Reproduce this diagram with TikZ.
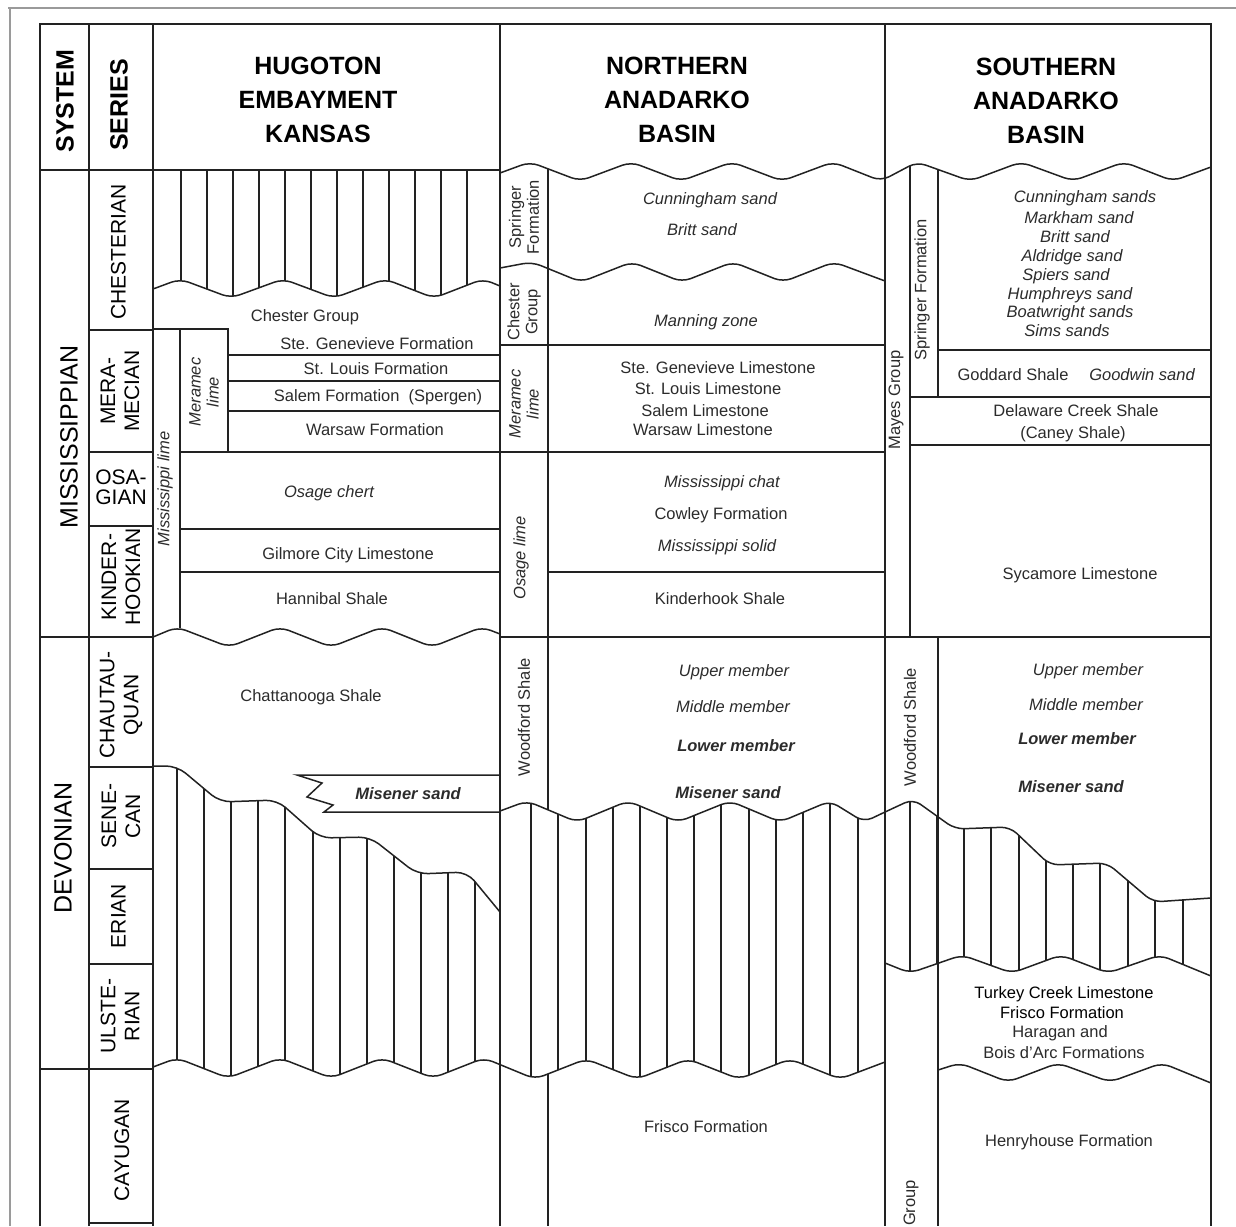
\documentclass[tikz,border=0pt]{standalone}
\usepackage{fontspec}
\setmainfont{Liberation Sans}
\definecolor{ln}{HTML}{222222}
\definecolor{tx}{HTML}{2b2b2b}
\definecolor{fr}{HTML}{9a9a9a}
\tikzset{
 ln/.style={draw=ln, line width=1.5pt},
 hat/.style={draw=ln, line width=1.2pt},
 wv/.style={draw=ln, line width=1.5pt, rounded corners=9pt},
 stp/.style={draw=ln, line width=1.5pt, rounded corners=11pt},
 lbl/.style={font=\fontsize{16.5}{19}\selectfont, text=tx, inner sep=0pt, text height=12pt, text depth=0pt},
 ilbl/.style={lbl, font=\fontsize{16.5}{19}\selectfont\itshape},
 blbl/.style={lbl, font=\fontsize{16.5}{19}\selectfont\bfseries\itshape},
 rlbl/.style={font=\fontsize{16.5}{18}\selectfont, text=tx, inner sep=0pt, rotate=90, align=center},
 rilbl/.style={rlbl, font=\fontsize{16.5}{18}\selectfont\itshape},
 hdr/.style={font=\fontsize{25}{34}\selectfont\bfseries, text=black, inner sep=0pt, align=center},
 sys/.style={font=\fontsize{25}{30}\selectfont, text=black, inner sep=0pt, rotate=90},
 ser/.style={font=\fontsize{21}{24}\selectfont, text=black, inner sep=0pt, rotate=90, align=center},
}
\begin{document}
\begin{tikzpicture}[x=1pt,y=-1pt]
\useasboundingbox (0,0) rectangle (1236,1226);
% outer frame of the page
\draw[fr, line width=2pt] (8,8) -- (1236,8);
\draw[fr, line width=2.5pt] (10,8) -- (10,1226);

% ---------- hatched areas ----------
\begin{scope}
\clip[rounded corners=9pt] (153,289) -- (180,279) -- (231,298) -- (283,279) -- (334,298) -- (385,279) -- (434,298) -- (483,279) -- (500,286) -- (500,170) -- (153,170) -- cycle;
\foreach \xx in {181,207,233,259,285,311,337,363,389,415,441,467} \draw[hat] (\xx,160) -- (\xx,310);
\end{scope}

\begin{scope}
\clip[rounded corners=9pt] (153,766) -- (177,766) -- (220,802) -- (277,800) -- (320,838) -- (370,837) -- (417,874) -- (467,872) -- (500,912) -- (500,811) -- (527,801) -- (577,822) -- (628,801) -- (678,822) -- (730,801) -- (780,822) -- (830,801) -- (864,822) -- (885,812) -- (885,1062) -- (840,1079) -- (790,1059) -- (739,1079) -- (688,1059) -- (637,1079) -- (586,1059) -- (535,1079) -- (484,1058) -- (433,1078) -- (382,1058) -- (331,1078) -- (280,1058) -- (228,1078) -- (177,1058) -- (153,1067) -- cycle;
\foreach \xx in {177,204,231,258,285,313,340,367,394,421,448,475} \draw[hat] (\xx,750) -- (\xx,1090);
\foreach \xx in {531,558,586,613,640,667,694,721,749,776,803,830,858} \draw[hat] (\xx,790) -- (\xx,1090);
\end{scope}

\begin{scope}
\clip[rounded corners=9pt] (885,812) -- (913,799) -- (955,829) -- (1010,827) -- (1050,865) -- (1107,863) -- (1153,902) -- (1211,898) -- (1211,976) -- (1160,955) -- (1108,973) -- (1061,955) -- (1012,973) -- (962,955) -- (910,973) -- (885,963) -- cycle;
\foreach \xx in {910,937,964,991,1019,1046,1073,1100,1128,1155,1183} \draw[hat] (\xx,790) -- (\xx,990);
\end{scope}

% ---------- main grid ----------
\draw[ln] (40,1226) -- (40,24) -- (1211,24) -- (1211,1226);
\foreach \xx in {89,153,500,885} \draw[ln] (\xx,24) -- (\xx,1226);
\draw[ln] (40,170) -- (500,170);
\draw[ln] (40,637) -- (153,637);
\draw[ln] (40,1069) -- (153,1069);
\foreach \yy in {330,452,526,767,869,964,1223} \draw[ln] (89,\yy) -- (153,\yy);

% ---------- Hugoton ----------
\draw[ln] (153,329) -- (228,329) -- (228,452);
\draw[ln] (180,329) -- (180,628);
\foreach \yy in {355,381,411} \draw[ln] (228,\yy) -- (500,\yy);
\foreach \yy in {452,529,572} \draw[ln] (180,\yy) -- (500,\yy);
\draw[wv] (153,289) -- (180,279) -- (231,298) -- (283,279) -- (334,298) -- (385,279) -- (434,298) -- (483,279) -- (500,286);
\draw[wv] (153,637) -- (177,627) -- (229,647) -- (280,627) -- (331,647) -- (382,627) -- (432,647) -- (482,627) -- (500,634);
\draw[stp] (153,766) -- (177,766) -- (220,802) -- (277,800) -- (320,838) -- (370,837) -- (417,874) -- (467,872) -- (500,912);
\draw[ln, line join=miter] (500,775) -- (297,775) -- (322,783) -- (307,797) -- (333,805) -- (324,812) -- (500,812);
\draw[wv] (153,1067) -- (177,1058) -- (228,1078) -- (280,1058) -- (331,1078) -- (382,1058) -- (433,1078) -- (484,1058) -- (535,1079) -- (586,1059) -- (637,1079) -- (688,1059) -- (739,1079) -- (790,1059) -- (840,1079) -- (885,1062);

% ---------- Northern ----------
\draw[wv] (500,173) -- (530,162) -- (580,181) -- (631,162) -- (681,181) -- (732,162) -- (782,181) -- (833,162) -- (881,181) -- (917,162) -- (970,181) -- (1021,162) -- (1073,181) -- (1124,162) -- (1173,181) -- (1211,167);
\draw[wv] (500,268) -- (532,262) -- (581,282) -- (632,262) -- (682,282) -- (733,262) -- (783,282) -- (834,262) -- (885,281);
\draw[ln] (548,169) -- (548,810);
\draw[ln] (548,1074) -- (548,1226);
\draw[ln] (500,345) -- (885,345);
\draw[ln] (500,452) -- (885,452);
\draw[ln] (548,572) -- (885,572);
\draw[ln] (500,637) -- (1211,637);
\draw[wv] (500,811) -- (527,801) -- (577,822) -- (628,801) -- (678,822) -- (730,801) -- (780,822) -- (830,801) -- (864,822) -- (885,812) -- (913,799) -- (955,829) -- (1010,827) -- (1050,865) -- (1107,863) -- (1153,902) -- (1211,898);

% ---------- Southern ----------
\draw[ln] (910,166) -- (910,637);
\draw[ln] (938,170) -- (938,397);
\draw[ln] (938,637) -- (938,1226);
\draw[ln] (938,350) -- (1211,350);
\draw[ln] (910,397) -- (1211,397);
\draw[ln] (910,445) -- (1211,445);
\draw[wv] (885,963) -- (910,973) -- (962,955) -- (1012,973) -- (1061,955) -- (1108,973) -- (1160,955) -- (1211,976);
\draw[wv] (938,1070) -- (960,1063) -- (1008,1082) -- (1058,1063) -- (1110,1082) -- (1162,1063) -- (1211,1083);

% ---------- headers ----------
\node[hdr] (hH) at (318,100) {HUGOTON\\EMBAYMENT\\KANSAS};
\node[hdr] (hN) at (677,100) {NORTHERN\\ANADARKO\\BASIN};
\node[hdr] (hS) at (1046,101) {SOUTHERN\\ANADARKO\\BASIN};
\node[hdr, rotate=90] (hSys) at (65,101) {SYSTEM};
\node[hdr, rotate=90] (hSer) at (119,105) {SERIES};

\node[sys] (sM) at (69,437) {MISSISSIPPIAN};
\node[sys] (sD) at (63,848) {DEVONIAN};

\node[ser] (s1) at (118.5,252) {CHESTERIAN};
\node[ser] (s2) at (120,391) {MERA-\\MECIAN};
\node[font=\fontsize{21}{20}\selectfont, text=black, inner sep=0pt, align=left] (s3) at (121,487) {OSA-\\GIAN};
\node[ser] (s4) at (121,577) {KINDER-\\HOOKIAN};
\node[ser] (s5) at (121,705) {CHAUTAU-\\QUAN};
\node[ser] (s6) at (121,816) {SENE-\\CAN};
\node[ser] (s7) at (118.5,916) {ERIAN};
\node[ser] (s8) at (120,1016) {ULSTE-\\RIAN};
\node[ser] (s9) at (122,1150) {CAYUGAN};

% ---------- Hugoton labels ----------
\node[lbl] (h1) at (305,315) {Chester Group};
\node[lbl] (h2) at (377,343) {Ste. Genevieve Formation};
\node[lbl] (h3) at (376,368) {St. Louis Formation};
\node[lbl] (h4) at (378,395) {Salem Formation~~(Spergen)};
\node[lbl] (h5) at (375,429) {Warsaw Formation};
\node[ilbl] (h6) at (329,491) {Osage chert};
\node[lbl] (h7) at (348,553) {Gilmore City Limestone};
\node[lbl] (h8) at (332,598) {Hannibal Shale};
\node[lbl] (h9) at (311,695) {Chattanooga Shale};
\node[blbl] (h10) at (408,793) {Misener sand};
\node[rilbl] (h11) at (165,489) {Mississippi lime};
\node[rilbl] (h12) at (204,392) {Meramec\\lime};

% ---------- Northern labels ----------
\node[rlbl] (n1) at (524,217) {Springer\\Formation};
\node[rlbl] (n2) at (524,312) {Chester\\Group};
\node[rilbl] (n3) at (524,404) {Meramec\\lime};
\node[rilbl] (n4) at (521,558) {Osage lime};
\node[rlbl] (n5) at (524,717) {Woodford Shale};
\node[ilbl] (n6) at (710,198) {Cunningham sand};
\node[ilbl] (n7) at (702,229) {Britt sand};
\node[ilbl] (n8) at (706,320) {Manning zone};
\node[lbl] (n9) at (718,367) {Ste. Genevieve Limestone};
\node[lbl] (n10) at (708,388) {St. Louis Limestone};
\node[lbl] (n11) at (705,410) {Salem Limestone};
\node[lbl] (n12) at (703,429) {Warsaw Limestone};
\node[ilbl] (n13) at (722,481) {Mississippi chat};
\node[lbl] (n14) at (721,513) {Cowley Formation};
\node[ilbl] (n15) at (717,545) {Mississippi solid};
\node[lbl] (n16) at (720,598) {Kinderhook Shale};
\node[ilbl] (n17) at (734,670) {Upper member};
\node[ilbl] (n18) at (733,706) {Middle member};
\node[blbl] (n19) at (736,745) {Lower member};
\node[blbl] (n20) at (728,792) {Misener sand};
\node[lbl] (n21) at (706,1126) {Frisco Formation};

% ---------- Southern labels ----------
\node[rlbl] (q1) at (922,290) {Springer Formation};
\node[rlbl] (q2) at (896,400) {Mayes Group};
\node[rlbl] (q3) at (910,727) {Woodford Shale};
\node[rlbl] (q4) at (911,1203) {Group};
\node[ilbl] (q5) at (1085,196) {Cunningham sands};
\node[ilbl] (q6) at (1079,217) {Markham sand};
\node[ilbl] (q7) at (1075,236) {Britt sand};
\node[ilbl] (q8) at (1072,255) {Aldridge sand};
\node[ilbl] (q9) at (1066,274) {Spiers sand};
\node[ilbl] (q10) at (1070,293) {Humphreys sand};
\node[ilbl] (q11) at (1070,311) {Boatwright sands};
\node[ilbl] (q12) at (1067,330) {Sims sands};
\node[lbl] (q13) at (1013,374) {Goddard Shale};
\node[ilbl] (q14) at (1142,374) {Goodwin sand};
\node[lbl] (q15) at (1076,410) {Delaware Creek Shale};
\node[lbl] (q16) at (1073,432) {(Caney Shale)};
\node[lbl] (q17) at (1080,573) {Sycamore Limestone};
\node[ilbl] (q18) at (1088,669) {Upper member};
\node[ilbl] (q19) at (1086,704) {Middle member};
\node[blbl] (q20) at (1077,738) {Lower member};
\node[blbl] (q21) at (1071,786) {Misener sand};
\node[lbl, text=black] (q22) at (1064,992) {Turkey Creek Limestone};
\node[lbl, text=black] (q23) at (1062,1012) {Frisco Formation};
\node[lbl] (q24) at (1060,1031) {Haragan and};
\node[lbl] (q25) at (1064,1052) {Bois d'Arc Formations};
\node[lbl] (q26) at (1069,1140) {Henryhouse Formation};
\end{tikzpicture}
\end{document}
